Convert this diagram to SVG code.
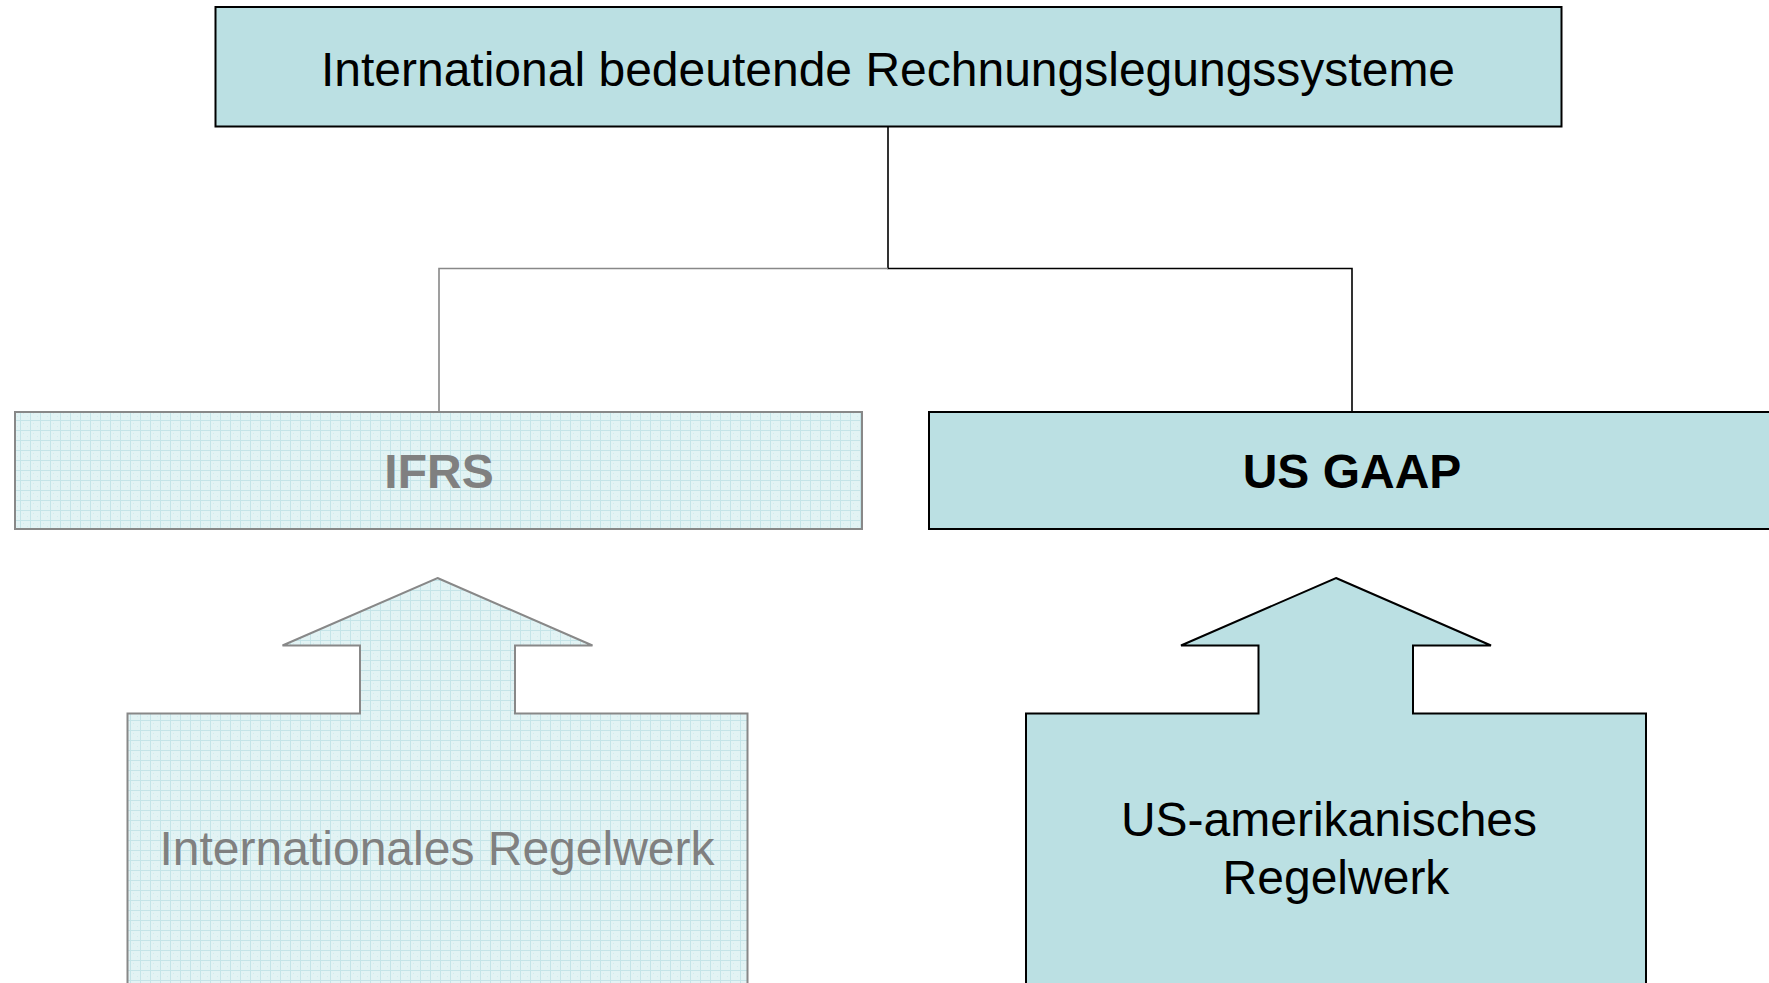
<svg xmlns="http://www.w3.org/2000/svg" width="1769" height="983" viewBox="0 0 1769 983">
<defs>
<pattern id="grid" width="10" height="10" patternUnits="userSpaceOnUse">
<rect width="10" height="10" fill="#e2f3f4"/>
<path d="M0 0.5H10M0.5 0V10" stroke="#c4e4e8" stroke-width="1"/>
<rect x="3" y="3" width="1" height="1" fill="#d3ecee"/>
<rect x="7" y="6" width="1" height="1" fill="#d3ecee"/>
</pattern>
</defs>
<style>
.solid{fill:#bbe0e3;stroke:#000;stroke-width:2}
.faded{fill:url(#grid);stroke:#888;stroke-width:2}
.t{font-family:"Liberation Sans",Arial,sans-serif;font-size:48px;text-anchor:middle}
.b{font-weight:bold}
.dark{fill:#000}
.grey{fill:#808080}
</style>
<rect width="1769" height="983" fill="#fff"/>
<g id="connectors" fill="none" stroke-width="1.6">
<path d="M888 126V268.5H1352V412" stroke="#000"/>
<path d="M888 268.5H439V412" stroke="#888"/>
</g>
<g id="top">
<rect class="solid" x="215.5" y="7" width="1346" height="119.5"/>
<text class="t dark" x="888" y="86">International bedeutende Rechnungslegungssysteme</text>
</g>
<g id="ifrs">
<rect class="faded" x="15" y="412" width="847" height="117"/>
<text class="t b grey" x="439" y="488">IFRS</text>
</g>
<g id="usgaap">
<rect class="solid" x="929" y="412" width="847" height="117"/>
<text class="t b dark" x="1352" y="488">US GAAP</text>
</g>
<g id="ifrs-arrow">
<path class="faded" d="M437.5 578L592.5 645.5H515V713.5H747.5V990H127.5V713.5H360V645.5H282.5Z"/>
<text class="t grey" x="437" y="865">Internationales Regelwerk</text>
</g>
<g id="us-arrow">
<path class="solid" d="M1336 578L1491 645.5H1413V713.5H1646V990H1026V713.5H1258.5V645.5H1181Z"/>
<text class="t dark" x="1329" y="836">US-amerikanisches</text>
<text class="t dark" x="1336" y="894">Regelwerk</text>
</g>
</svg>
